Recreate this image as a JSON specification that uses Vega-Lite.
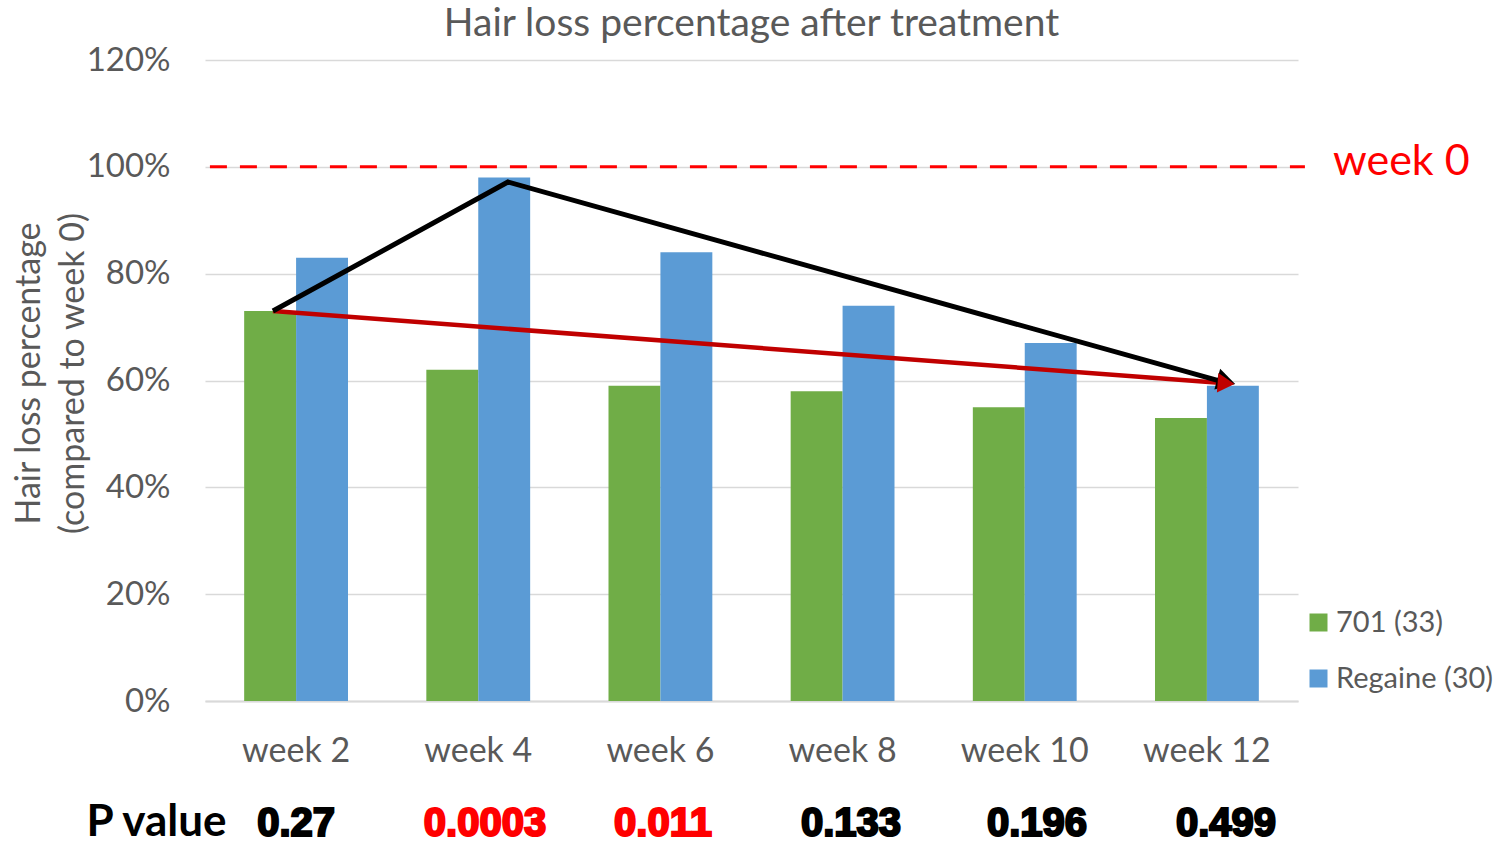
{
  "$schema": "https://vega.github.io/schema/vega-lite/v6.json",
  "width": 1093,
  "height": 641,
  "autosize": {"type": "none"},
  "padding": {"left": 205, "top": 60, "right": 201, "bottom": 142},
  "background": "white",
  "title": {"text": "Hair loss percentage after treatment", "fontSize": 39, "font": "Lato", "fontWeight": "normal", "color": "#595959", "offset": 0, "anchor": "middle"},
  "config": {"view": {"stroke": null}, "font": "Lato"},
  "encoding": {
    "y": {
      "field": "value", "type": "quantitative",
      "scale": {"domain": [0, 1.2], "nice": false, "zero": false},
      "axis": {
        "values": [0, 0.2, 0.4, 0.6, 0.8, 1.0, 1.2], "format": ".0%",
        "labelFontSize": 33, "labelColor": "#595959", "labelPadding": 35, "labelFont": "Lato",
        "ticks": false, "domain": false, "grid": true, "gridColor": "#d9d9d9", "gridWidth": 1.5,
        "title": ["Hair loss percentage", "(compared to week 0)"],
        "titleFontSize": 34, "titleColor": "#595959", "titleFontWeight": "normal", "titleFont": "Lato",
        "titleLineHeight": 44, "titleX": -159, "titleY": 313, "titleAlign": "center", "titleBaseline": "bottom", "titleAngle": -90
      }
    }
  },
  "layer": [
    {
      "data": {"values": [
        {"week": "week 2", "group": "701 (33)", "value": 0.73},
        {"week": "week 2", "group": "Regaine (30)", "value": 0.83},
        {"week": "week 4", "group": "701 (33)", "value": 0.62},
        {"week": "week 4", "group": "Regaine (30)", "value": 0.98},
        {"week": "week 6", "group": "701 (33)", "value": 0.59},
        {"week": "week 6", "group": "Regaine (30)", "value": 0.84},
        {"week": "week 8", "group": "701 (33)", "value": 0.58},
        {"week": "week 8", "group": "Regaine (30)", "value": 0.74},
        {"week": "week 10", "group": "701 (33)", "value": 0.55},
        {"week": "week 10", "group": "Regaine (30)", "value": 0.67},
        {"week": "week 12", "group": "701 (33)", "value": 0.53},
        {"week": "week 12", "group": "Regaine (30)", "value": 0.59}
      ]},
      "mark": {"type": "bar"},
      "encoding": {
        "x": {
          "field": "week", "type": "nominal",
          "sort": ["week 2", "week 4", "week 6", "week 8", "week 10", "week 12"],
          "scale": {"paddingInner": 0.43, "paddingOuter": 0.215},
          "axis": {"title": null, "labelAngle": 0, "labelFontSize": 34, "labelColor": "#595959", "labelFont": "Lato", "labelPadding": 33, "ticks": false, "domainColor": "#d9d9d9", "domainWidth": 2, "grid": false}
        },
        "xOffset": {"field": "group", "type": "nominal", "sort": ["701 (33)", "Regaine (30)"], "scale": {"paddingInner": 0, "paddingOuter": 0}},
        "color": {
          "field": "group", "type": "nominal",
          "scale": {"domain": ["701 (33)", "Regaine (30)"], "range": ["#70AD47", "#5B9BD5"]},
          "legend": {"title": null, "orient": "none", "legendX": 1099, "legendY": 548, "padding": 0, "symbolType": "square", "symbolSize": 324, "symbolStrokeWidth": 0, "labelFontSize": 29, "labelColor": "#595959", "labelFont": "Lato", "labelOffset": 3, "rowPadding": 26}
        }
      }
    },
    {
      "data": {"values": [{"xq": 0.027, "xq2": 6.038, "value": 1.0}]},
      "mark": {"type": "rule", "color": "#FF0000", "strokeWidth": 3, "strokeDash": [17, 13]},
      "encoding": {
        "x": {"field": "xq", "type": "quantitative", "scale": {"domain": [0, 6], "nice": false, "zero": false}, "axis": null},
        "x2": {"field": "xq2"}
      }
    },
    {
      "data": {"values": [{"xq": 0.373, "value": 0.730}, {"xq": 5.583, "value": 0.5953}]},
      "mark": {"type": "line", "color": "#C00000", "strokeWidth": 4.5},
      "encoding": {
        "x": {"field": "xq", "type": "quantitative", "scale": {"domain": [0, 6], "nice": false, "zero": false}, "axis": null}
      }
    },
    {
      "data": {"values": [{"xq": 0.373, "value": 0.730}, {"xq": 1.663, "value": 0.9716}, {"xq": 5.583, "value": 0.598}]},
      "mark": {"type": "line", "color": "#000000", "strokeWidth": 5},
      "encoding": {
        "x": {"field": "xq", "type": "quantitative", "scale": {"domain": [0, 6], "nice": false, "zero": false}, "axis": null}
      }
    },
    {
      "data": {"values": [{"xq": 5.606, "value": 0.598}]},
      "mark": {"type": "point", "shape": "triangle-right", "filled": true, "color": "#000000", "size": 460, "angle": 15.6, "opacity": 1},
      "encoding": {
        "x": {"field": "xq", "type": "quantitative", "scale": {"domain": [0, 6], "nice": false, "zero": false}, "axis": null}
      }
    },
    {
      "data": {"values": [{"xq": 5.605, "value": 0.5947}]},
      "mark": {"type": "point", "shape": "triangle-right", "filled": true, "color": "#C00000", "size": 380, "angle": 4.3, "opacity": 1},
      "encoding": {
        "x": {"field": "xq", "type": "quantitative", "scale": {"domain": [0, 6], "nice": false, "zero": false}, "axis": null}
      }
    },
    {
      "data": {"values": [{"xq": 6.192, "value": 0.9847, "label": "week 0"}]},
      "mark": {"type": "text", "font": "Lato", "fontSize": 43, "color": "#FF0000", "align": "left", "baseline": "alphabetic"},
      "encoding": {
        "x": {"field": "xq", "type": "quantitative", "scale": {"domain": [0, 6], "nice": false, "zero": false}, "axis": null},
        "text": {"field": "label"}
      }
    },
    {
      "data": {"values": [{"xq": -0.266, "value": -0.2535, "label": "P value"}]},
      "mark": {"type": "text", "font": "Lato", "fontSize": 44, "fontWeight": "bold", "color": "#000000", "align": "center", "baseline": "alphabetic"},
      "encoding": {
        "x": {"field": "xq", "type": "quantitative", "scale": {"domain": [0, 6], "nice": false, "zero": false}, "axis": null},
        "text": {"field": "label"}
      }
    },
    {
      "data": {"values": [
        {"xq": 0.5, "value": -0.2535, "label": "0.27", "p": 0.27},
        {"xq": 1.537, "value": -0.2535, "label": "0.0003", "p": 0.0003},
        {"xq": 2.514, "value": -0.2535, "label": "0.011", "p": 0.011},
        {"xq": 3.546, "value": -0.2535, "label": "0.133", "p": 0.133},
        {"xq": 4.567, "value": -0.2535, "label": "0.196", "p": 0.196},
        {"xq": 5.605, "value": -0.2535, "label": "0.499", "p": 0.499}
      ]},
      "mark": {"type": "text", "font": "Liberation Sans", "fontSize": 40, "fontWeight": "bold", "align": "center", "baseline": "alphabetic", "strokeWidth": 2.2},
      "encoding": {
        "x": {"field": "xq", "type": "quantitative", "scale": {"domain": [0, 6], "nice": false, "zero": false}, "axis": null},
        "text": {"field": "label"},
        "color": {"condition": {"test": "datum.p < 0.05", "value": "#FF0000"}, "value": "#000000"},
        "stroke": {"condition": {"test": "datum.p < 0.05", "value": "#FF0000"}, "value": "#000000"}
      }
    }
  ],
  "resolve": {"scale": {"x": "independent"}}
}
